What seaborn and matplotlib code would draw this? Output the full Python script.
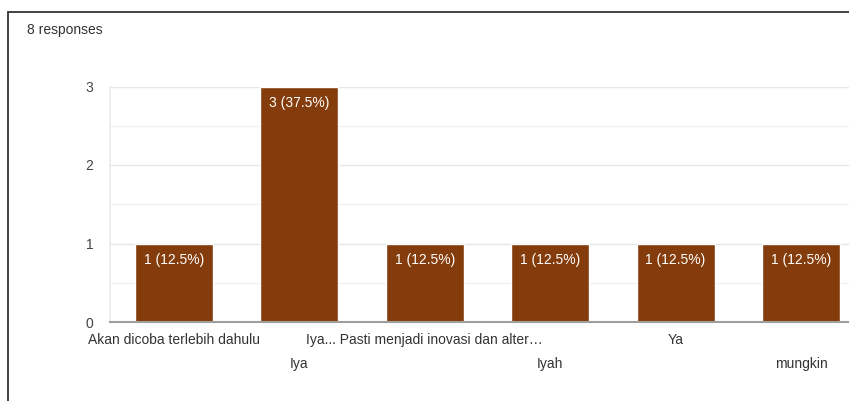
import pandas as pd
import matplotlib
matplotlib.use("Agg")
import matplotlib.pyplot as plt
import seaborn as sns
from matplotlib.lines import Line2D

# data
answers = ["Akan dicoba terlebih dahulu", "Iya", "Iya... Pasti menjadi inovasi dan alter\u2026",
           "Iyah", "Ya", "mungkin"]
counts = [1, 3, 1, 1, 1, 1]
total = 8

df = pd.DataFrame({"answer": answers, "count": counts})

sns.set_theme(style="white")
plt.rcParams["font.family"] = ["Liberation Sans", "DejaVu Sans"]

fig = plt.figure(figsize=(8.49, 4.01), dpi=100)
# plot area runs past the right edge, like the cropped screenshot
ax = fig.add_axes([110 / 849, 1 - 322 / 401, 755 / 849, 235.5 / 401])

sns.barplot(data=df, x="answer", y="count", color="#843c0c", width=0.62,
            saturation=1, ax=ax, zorder=3)

ax.set_ylim(0, 3)
ax.set_xlim(-0.51, len(answers) - 0.49)
ax.set_yticks([0, 1, 2, 3])
ax.set_yticks([0.5, 1.5, 2.5], minor=True)
ax.grid(axis="y", which="major", color="#e6e6e6", linewidth=1, zorder=0)
ax.grid(axis="y", which="minor", color="#f0f0f0", linewidth=1, zorder=0)
ax.tick_params(axis="y", which="both", length=0, pad=12, labelsize=10, labelcolor="#444444")
ax.tick_params(axis="x", length=0, pad=8, labelsize=10, labelcolor="#333333")

# alternate the category labels over two rows
ax.set_xticks(range(len(answers)))
ax.set_xticklabels([a if i % 2 == 0 else "\n" + a for i, a in enumerate(answers)],
                   linespacing=1.9)
ax.set_xlabel("")
ax.set_ylabel("")

for s in ["top", "right"]:
    ax.spines[s].set_visible(False)
ax.spines["left"].set_color("#ececec")
ax.spines["bottom"].set_color("#9e9e9e")
ax.spines["bottom"].set_linewidth(1.5)
ax.spines["bottom"].set_zorder(4)

labels = [f"{c} ({c / total * 100:.1f}%)" for c in counts]
ax.bar_label(ax.containers[0], labels=labels, label_type="edge", padding=-17,
             color="white", fontsize=10)

fig.text(27 / 849, 1 - 30 / 401, f"{total} responses", fontsize=10, color="#333333",
         va="center", ha="left")

# frame lines of the screenshot
fig.add_artist(Line2D([8 / 849, 8 / 849], [0, 1 - 12 / 401], transform=fig.transFigure,
                      color="#333333", linewidth=1.3))
fig.add_artist(Line2D([8 / 849, 1], [1 - 12 / 401, 1 - 12 / 401], transform=fig.transFigure,
                      color="#333333", linewidth=1.3))

fig.savefig("out.png", dpi=100)
